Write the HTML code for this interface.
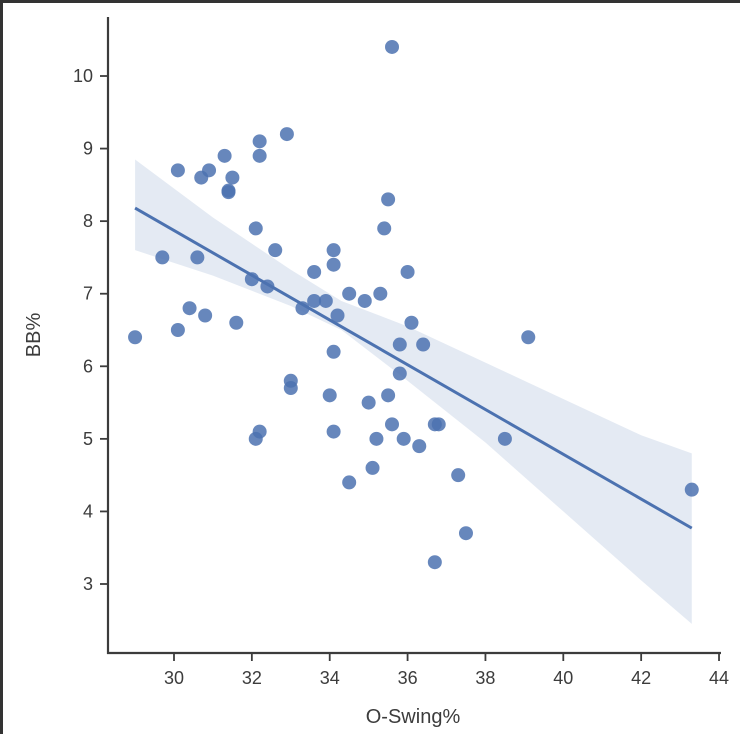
<!DOCTYPE html>
<html><head><meta charset="utf-8"><style>
html,body{margin:0;padding:0;background:#fff}
#wrap{position:relative;width:740px;height:734px;overflow:hidden;background:#fff}
svg text{font-family:"Liberation Sans",sans-serif;fill:#3c3c3c}
</style></head><body>
<div id="wrap">
<svg id="chart" width="740" height="734">
<rect x="0" y="0" width="740" height="3" fill="#333"/>
<rect x="0" y="0" width="3" height="734" fill="#333"/>
</svg>
</div>
<script>
const xTicks=[30,32,34,36,38,40,42,44];
const yTicks=[3,4,5,6,7,8,9,10];
const oSwing=[29.0,29.7,30.1,30.1,30.4,30.6,30.7,30.9,30.8,31.3,31.4,31.4,31.5,31.6,32.0,32.1,32.2,32.2,32.4,32.6,32.1,32.2,32.9,33.0,33.0,33.3,33.6,33.6,33.9,34.0,34.1,34.1,34.1,34.1,34.2,34.5,34.5,34.9,35.0,35.2,35.1,35.3,35.4,35.5,35.6,35.5,35.6,35.8,35.8,35.9,36.0,36.1,36.3,36.4,36.7,36.8,36.7,37.3,37.5,38.5,39.1,43.3];
const bbPct=[6.4,7.5,8.7,6.5,6.8,7.5,8.6,8.7,6.7,8.9,8.4,8.42,8.6,6.6,7.2,7.9,9.1,8.9,7.1,7.6,5.0,5.1,9.2,5.8,5.7,6.8,7.3,6.9,6.9,5.6,7.6,7.4,6.2,5.1,6.7,7.0,4.4,6.9,5.5,5.0,4.6,7.0,7.9,8.3,10.4,5.6,5.2,5.9,6.3,5.0,7.3,6.6,4.9,6.3,5.2,5.2,3.3,4.5,3.7,5.0,6.4,4.3];
const fitX=[29.0,43.3];
const fitY=[8.18,3.77];
const bandX=[29.0,31,33,34.3,36,38,40,42,43.3];
const bandHigh=[8.85,8.05,7.33,6.9,6.55,6.05,5.55,5.05,4.8];
const bandLow=[7.6,7.25,6.83,6.5,5.8,4.95,4.0,3.05,2.45];

const svg=document.getElementById('chart');
const NS='http://www.w3.org/2000/svg';
const sx=v=>174+(v-30)*38.93;
const sy=v=>584-(v-3)*72.57;
function mk(t,a){const e=document.createElementNS(NS,t);for(const k in a)e.setAttribute(k,a[k]);svg.appendChild(e);return e;}

let d='M'+bandX.map((x,i)=>sx(x)+','+sy(bandHigh[i])).join(' L');
for(let i=bandX.length-1;i>=0;i--)d+=' L'+sx(bandX[i])+','+sy(bandLow[i]);
d+=' Z';
const band=mk('path',{d:d,fill:'#4c72b0','fill-opacity':0.15});



oSwing.forEach((x,i)=>{
  const c=mk('circle',{cx:sx(x),cy:sy(bbPct[i]),r:7,fill:'#4c72b0','fill-opacity':0.85});
  
  
});

const ln=mk('line',{x1:sx(fitX[0]),y1:sy(fitY[0]),x2:sx(fitX[1]),y2:sy(fitY[1]),stroke:'#4c72b0','stroke-width':3});



const ya=mk('line',{x1:108,y1:17,x2:108,y2:654,stroke:'#3c3c3c','stroke-width':2.2});


const xa=mk('line',{x1:107,y1:653,x2:721,y2:653,stroke:'#3c3c3c','stroke-width':2.2});



xTicks.forEach(v=>{
  const t=mk('line',{x1:sx(v),y1:653,x2:sx(v),y2:661,stroke:'#3c3c3c','stroke-width':1.8});
  
  
  const l=mk('text',{x:sx(v),y:684,'text-anchor':'middle','font-size':18});
  l.textContent=v;
  
  
});
yTicks.forEach(v=>{
  const t=mk('line',{x1:100,y1:sy(v),x2:108,y2:sy(v),stroke:'#3c3c3c','stroke-width':1.8});
  
  
  const l=mk('text',{x:93,y:sy(v)+6,'text-anchor':'end','font-size':18});
  l.textContent=v;
  
  
});
const xt=mk('text',{x:413,y:723,'text-anchor':'middle','font-size':20});
xt.textContent='O-Swing%';


const yt=mk('text',{x:0,y:0,'text-anchor':'middle','font-size':20,transform:'translate(40,335) rotate(-90)'});
yt.textContent='BB%';


</script>
</body></html>
